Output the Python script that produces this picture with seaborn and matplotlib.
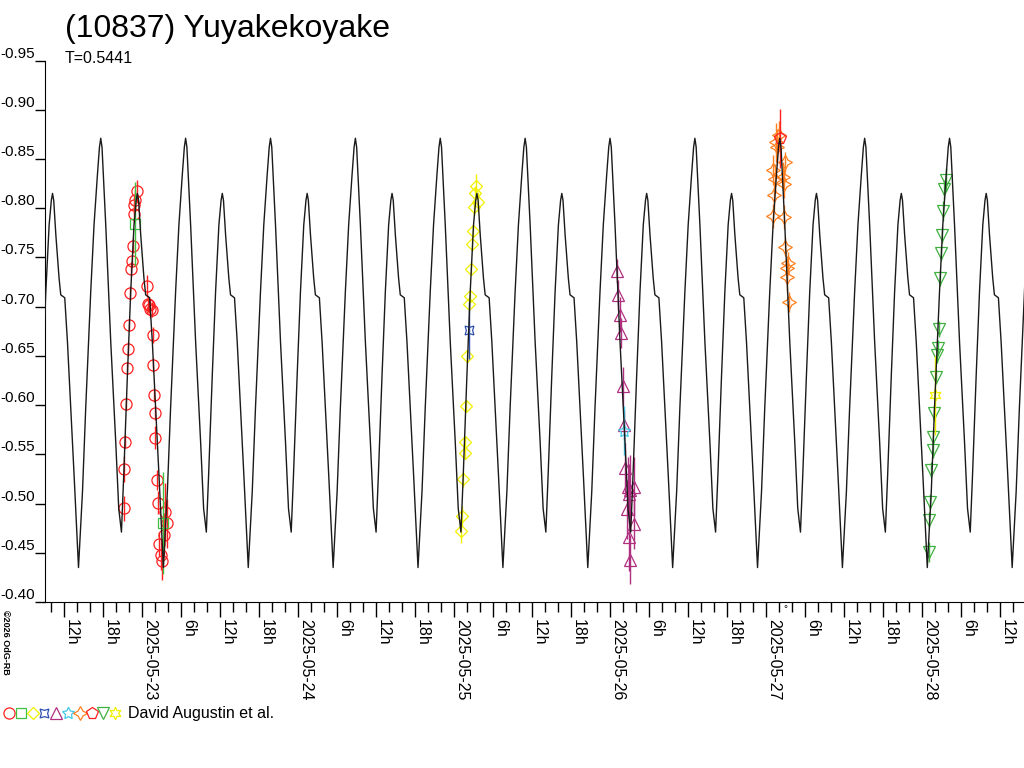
import numpy as np
import pandas as pd
import matplotlib
matplotlib.use("Agg")
import matplotlib.pyplot as plt
import matplotlib.dates as mdates
from matplotlib.ticker import FuncFormatter, MultipleLocator
import seaborn as sns

# ---- values ----
title = "(10837) Yuyakekoyake"
period_text = "T=0.5441"
observer = "David Augustin et al."
period_days = 0.5441
epoch = pd.Timestamp("2025-05-23 06:42")   # a main maximum of the fit
day0 = pd.Timestamp("2025-05-23 00:00")     # session times are hours after this
x_start = pd.Timestamp("2025-05-22 09:04")
x_end = pd.Timestamp("2025-05-28 15:41")
y_top, y_bottom = -0.95, -0.40

# one cycle of the fitted curve: phase (fraction of period) and magnitude
fit_phase = [0.000, 0.015, 0.059, 0.118, 0.177, 0.212, 0.244, 0.271, 0.314, 0.353,
             0.392, 0.418, 0.432, 0.446, 0.471, 0.509, 0.529, 0.576, 0.608, 0.647,
             0.686, 0.714, 0.738, 0.785, 0.823, 0.882, 0.921, 0.961, 0.985]
fit_mag = [-0.871, -0.862, -0.783, -0.664, -0.562, -0.495, -0.471, -0.529, -0.630, -0.715,
           -0.783, -0.808, -0.815, -0.808, -0.773, -0.729, -0.712, -0.709, -0.664, -0.597,
           -0.529, -0.478, -0.435, -0.512, -0.597, -0.715, -0.783, -0.834, -0.862]
fit_cycles = list(range(-4, 12))

# observations (hours after 2025-05-23 00:00, magnitude, error)
red_hours = [-2.82, -2.72, -2.57, -2.46, -2.31, -2.11, -1.95, -1.80, -1.65, -1.54,
             -1.43, -1.28, -1.22, -1.08, -0.72, 0.72, 0.88, 1.08, 1.28, 1.58,
             1.65, 1.74, 1.85, 1.95, 2.05, 2.35, 2.46, 2.57, 2.88, 3.12,
             3.38, 3.49, 3.80]
red_mag = [-0.535, -0.495, -0.563, -0.601, -0.638, -0.657, -0.681, -0.714, -0.738, -0.746,
           -0.762, -0.794, -0.803, -0.808, -0.817, -0.721, -0.703, -0.702, -0.698, -0.697,
           -0.671, -0.641, -0.610, -0.592, -0.567, -0.524, -0.501, -0.459, -0.448, -0.442,
           -0.468, -0.491, -0.480]
red_err = [0.013, 0.013, 0.007, 0.006, 0.006, 0.007, 0.006, 0.007, 0.007, 0.006,
           0.008, 0.009, 0.009, 0.010, 0.012, 0.011, 0.008, 0.008, 0.010, 0.008,
           0.008, 0.007, 0.007, 0.007, 0.012, 0.010, 0.012, 0.012, 0.015, 0.020,
           0.022, 0.030, 0.025]

green_sq_hours = [-1.08, 3.28]
green_sq_mag = [-0.784, -0.480]
green_sq_err = [0.043, 0.052]

yellow_hours = [49.12, 49.28, 49.38, 49.65, 49.74, 49.89, 50.00, 50.35, 50.46, 50.62,
                50.82, 50.97, 51.05, 51.23, 51.34, 51.65]
yellow_mag = [-0.472, -0.487, -0.525, -0.551, -0.563, -0.599, -0.650, -0.703, -0.711, -0.738,
              -0.764, -0.777, -0.801, -0.815, -0.823, -0.806]
yellow_err = [0.012, 0.010, 0.008, 0.006, 0.006, 0.006, 0.006, 0.006, 0.006, 0.006,
              0.006, 0.006, 0.008, 0.008, 0.012, 0.010]

blue_hours = [50.26]
blue_mag = [-0.676]
blue_err = [0.029]

purple_hours = [73.12, 73.28, 73.49, 73.69, 73.95, 74.15, 74.35, 74.57, 74.72, 74.92,
                74.97, 75.08, 75.12, 75.65, 75.74]
purple_mag = [-0.736, -0.712, -0.692, -0.673, -0.619, -0.580, -0.536, -0.494, -0.517, -0.466,
              -0.510, -0.514, -0.443, -0.479, -0.517]
purple_err = [0.012, 0.015, 0.018, 0.015, 0.020, 0.015, 0.025, 0.030, 0.030, 0.035,
              0.030, 0.035, 0.025, 0.025, 0.030]

cyan_hours = [74.11]
cyan_mag = [-0.574]
cyan_err = [0.025]

orange_hours = [97.03, 97.12, 97.28, 97.38, 97.54, 97.65, 98.00, 98.57, 98.77, 98.82,
                98.92, 98.98, 99.18, 99.28, 99.34, 99.58]
orange_mag = [-0.792, -0.839, -0.813, -0.830, -0.867, -0.862, -0.874, -0.832, -0.825, -0.791,
              -0.847, -0.761, -0.739, -0.730, -0.744, -0.705]
orange_err = [0.012, 0.015, 0.015, 0.015, 0.020, 0.018, 0.015, 0.015, 0.015, 0.012,
              0.010, 0.010, 0.012, 0.015, 0.012, 0.010]

pent_hours = [98.15]
pent_mag = [-0.871]
pent_err = [0.030]

green_tri_hours = [121.03, 121.12, 121.28, 121.38, 121.65, 121.69, 121.89, 122.15, 122.35,
                   122.46, 122.57, 122.82, 122.97, 123.08, 123.18, 123.34, 123.69]
green_tri_mag = [-0.451, -0.483, -0.502, -0.534, -0.568, -0.554, -0.592, -0.629, -0.651,
                 -0.658, -0.677, -0.729, -0.754, -0.773, -0.797, -0.819, -0.829]
green_tri_err = [0.010, 0.008, 0.008, 0.008, 0.008, 0.008, 0.008, 0.008, 0.008,
                 0.008, 0.008, 0.008, 0.008, 0.008, 0.010, 0.010, 0.012]

hexa_hours = [122.05]
hexa_mag = [-0.610]
hexa_err = [0.040]

# marker / colour for each series, in legend order
sessions = [
    (red_hours, red_mag, red_err, "o", "#ff2020", 8),
    (green_sq_hours, green_sq_mag, green_sq_err, "s", "#40c040", 7),
    (yellow_hours, yellow_mag, yellow_err, "D", "#f0f000", 6.5),
    (blue_hours, blue_mag, blue_err, (4, 1, 45), "#3050b0", 9),
    (purple_hours, purple_mag, purple_err, "^", "#b03080", 8),
    (cyan_hours, cyan_mag, cyan_err, (5, 1, 0), "#40c8e8", 9),
    (orange_hours, orange_mag, orange_err, (4, 1, 0), "#ff8020", 10),
    (pent_hours, pent_mag, pent_err, "p", "#ff2020", 8.5),
    (green_tri_hours, green_tri_mag, green_tri_err, "v", "#40b040", 8),
    (hexa_hours, hexa_mag, hexa_err, (6, 1, 0), "#f0f000", 9),
]

# ---- build the fitted curve table ----
rows = []
for k in fit_cycles:
    for ph, mg in zip(fit_phase, fit_mag):
        rows.append({"time": epoch + pd.Timedelta(days=(k + ph) * period_days), "mag": mg})
curve = pd.DataFrame(rows)

sns.set_style("ticks", rc={"axes.edgecolor": "black", "xtick.color": "black",
                           "ytick.color": "black", "text.color": "black"})
plt.rcParams["font.family"] = ["Liberation Sans", "DejaVu Sans"]
plt.rcParams["axes.unicode_minus"] = False

fig = plt.figure(figsize=(10.24, 7.68), dpi=100)
ax = fig.add_axes([45 / 1024, 1 - 602 / 768, 979 / 1024, 541.5 / 768])

for hours, mags, errs, marker, color, ms in sessions:
    times = [day0 + pd.Timedelta(hours=h) for h in hours]
    ax.errorbar(times, mags, yerr=errs, fmt="none", ecolor=color, elinewidth=1,
                capsize=0, zorder=2)
    ax.plot(times, mags, ls="none", marker=marker, mfc="none", mec=color,
            ms=ms, mew=0.9, zorder=2)

sns.lineplot(data=curve, x="time", y="mag", color="#1a1a1a", lw=1, ax=ax,
             estimator=None, sort=False, zorder=3)

ax.set_xlim(x_start, x_end)
ax.set_ylim(y_bottom, y_top)
ax.set_xlabel("")
ax.set_ylabel("")
sns.despine(ax=ax)

ax.xaxis.set_major_locator(mdates.HourLocator(byhour=[0, 6, 12, 18]))
ax.xaxis.set_minor_locator(mdates.HourLocator(interval=2))


def date_label(v, pos):
    d = mdates.num2date(v)
    if d.hour == 0:
        return d.strftime("%Y-%m-%d")
    return f"{d.hour}h"


ax.xaxis.set_major_formatter(FuncFormatter(date_label))
ax.yaxis.set_major_locator(MultipleLocator(0.05))
ax.yaxis.set_major_formatter(FuncFormatter(lambda v, p: f"{v:.2f}"))

ax.tick_params(axis="x", which="major", length=11, width=1, pad=1, labelsize=11.5,
               labelrotation=-90)
ax.tick_params(axis="x", which="minor", length=7, width=1)
ax.tick_params(axis="y", which="major", length=7, width=1, pad=0.5, labelsize=11)
ax.get_xticklabels()
for t in ax.xaxis.get_major_ticks():
    t.label1.set_horizontalalignment("left")
    t.label1.set_verticalalignment("top")
ax.get_yticklabels()
for t in ax.yaxis.get_major_ticks():
    t.label1.set_verticalalignment("bottom")

# texts around the plot
fig.text(65 / 1024, 1 - 37 / 768, title, fontsize=23, va="baseline")
fig.text(65 / 1024, 1 - 63 / 768, period_text, fontsize=11.5, va="baseline")
fig.text(5 / 1024, 1 - 610 / 768, "\u00a92026 OdG-RB", rotation=-90, fontsize=6.5,
         ha="center", va="top", fontweight="bold")
fig.text(785 / 1024, 1 - 612 / 768, "\u00b0", fontsize=7, ha="center")

# legend row of symbols
lax = fig.add_axes([0, 0, 1, 1])
lax.set_xlim(0, 1024)
lax.set_ylim(768, 0)
lax.axis("off")
for i, (_, _, _, marker, color, ms) in enumerate(sessions):
    lax.plot([9 + i * 11.8], [713], marker=marker, mfc="none", mec=color, ms=ms, mew=0.9)
fig.text(128 / 1024, 1 - 718 / 768, observer, fontsize=11.5, va="baseline")

fig.savefig("out.png", dpi=100)
